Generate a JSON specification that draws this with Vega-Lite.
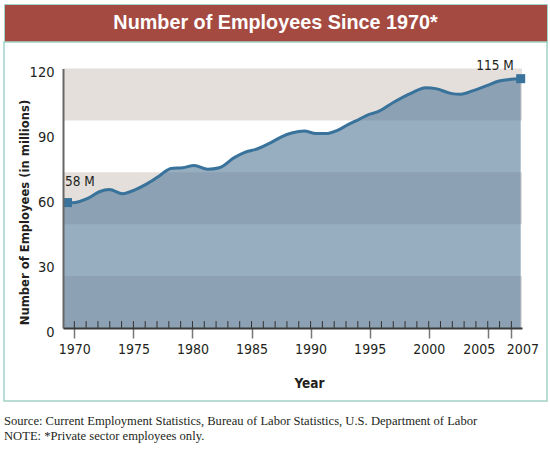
{
  "$schema": "https://vega.github.io/schema/vega-lite/v6.json",
  "autosize": {"type": "pad"},
  "padding": {"left": 3, "top": 3, "right": 3, "bottom": 10},
  "background": "white",
  "spacing": 0,
  "bounds": "flush",
  "config": {
    "view": {"stroke": "#a3d2c7", "strokeWidth": 1.5},
    "font": "Liberation Sans Narrow, DejaVu Sans Condensed, sans-serif"
  },
  "datasets": {
    "heading": [{"heading": "Number of Employees Since 1970*"}],
    "bands": [
      {"lo": 0, "hi": 24},
      {"lo": 48, "hi": 72},
      {"lo": 96, "hi": 120}
    ],
    "years": [
      {"year": 1970}, {"year": 1971}, {"year": 1972}, {"year": 1973}, {"year": 1974},
      {"year": 1975}, {"year": 1976}, {"year": 1977}, {"year": 1978}, {"year": 1979},
      {"year": 1980}, {"year": 1981}, {"year": 1982}, {"year": 1983}, {"year": 1984},
      {"year": 1985}, {"year": 1986}, {"year": 1987}, {"year": 1988}, {"year": 1989},
      {"year": 1990}, {"year": 1991}, {"year": 1992}, {"year": 1993}, {"year": 1994},
      {"year": 1995}, {"year": 1996}, {"year": 1997}, {"year": 1998}, {"year": 1999},
      {"year": 2000}, {"year": 2001}, {"year": 2002}, {"year": 2003}, {"year": 2004},
      {"year": 2005}, {"year": 2006}, {"year": 2007}
    ],
    "employees": [
      {"year": 1969.04, "value": 58.0},
      {"year": 1969.42, "value": 58.0, "label": "58 M", "end": "first"},
      {"year": 1969.81, "value": 57.9},
      {"year": 1971.27, "value": 60.3},
      {"year": 1972.12, "value": 63.0},
      {"year": 1972.96, "value": 64.1},
      {"year": 1974.09, "value": 62.1},
      {"year": 1975.22, "value": 64.1},
      {"year": 1976.06, "value": 66.4},
      {"year": 1977.19, "value": 70.3},
      {"year": 1978.18, "value": 73.8},
      {"year": 1979.17, "value": 74.1},
      {"year": 1980.15, "value": 75.2},
      {"year": 1981.29, "value": 73.4},
      {"year": 1982.27, "value": 74.1},
      {"year": 1983.54, "value": 78.8},
      {"year": 1984.38, "value": 81.1},
      {"year": 1985.52, "value": 82.9},
      {"year": 1986.64, "value": 85.7},
      {"year": 1987.49, "value": 88.3},
      {"year": 1988.48, "value": 90.3},
      {"year": 1989.46, "value": 91.1},
      {"year": 1990.45, "value": 89.9},
      {"year": 1991.29, "value": 89.9},
      {"year": 1992.28, "value": 91.4},
      {"year": 1993.13, "value": 93.9},
      {"year": 1994.11, "value": 96.5},
      {"year": 1994.96, "value": 98.8},
      {"year": 1995.67, "value": 99.9},
      {"year": 1997.07, "value": 104.5},
      {"year": 1998.49, "value": 108.5},
      {"year": 1999.75, "value": 111.1},
      {"year": 2000.60, "value": 110.7},
      {"year": 2001.87, "value": 108.5},
      {"year": 2002.71, "value": 108.1},
      {"year": 2003.84, "value": 109.9},
      {"year": 2004.97, "value": 112.2},
      {"year": 2005.96, "value": 114.2},
      {"year": 2006.94, "value": 115.0},
      {"year": 2007.79, "value": 115.3, "label": "115 M", "end": "last"}
    ]
  },
  "vconcat": [
    {
      "width": 543,
      "height": 38,
      "view": {"fill": "#a54a41", "stroke": "#a3d2c7"},
      "data": {"name": "heading"},
      "mark": {"type": "text", "font": "Liberation Sans", "fontSize": 19.8, "fontWeight": "bold", "color": "white", "baseline": "middle", "align": "center"},
      "encoding": {"text": {"field": "heading", "type": "nominal"}}
    },
    {
      "width": 543,
      "height": 359,
      "view": {"fill": "white", "stroke": "#a3d2c7"},
      "title": {
        "text": [
          "Source: Current Employment Statistics, Bureau of Labor Statistics, U.S. Department of Labor",
          "NOTE: *Private sector employees only."
        ],
        "orient": "bottom",
        "anchor": "start",
        "frame": "group",
        "offset": 14,
        "font": "Liberation Serif",
        "fontSize": 12.6,
        "fontWeight": "normal",
        "color": "#231f20",
        "lineHeight": 14.5
      },
      "layer": [
        {
          "data": {"name": "bands"},
          "mark": {"type": "rect", "color": "#e4dfdb"},
          "encoding": {
            "x": {"datum": 1969.04, "type": "quantitative",
                  "scale": {"domain": [1969.04, 2007.9], "range": [59, 518], "nice": false, "zero": false},
                  "axis": {
                    "values": [1970, 1975, 1980, 1985, 1990, 1995, 2000, 2005, 2007],
                    "format": "d",
                    "offset": -73,
                    "zindex": 1,
                    "domainColor": "#3a3a3a",
                    "domainWidth": 2,
                    "tickColor": "#777777",
                    "tickSize": 10,
                    "tickWidth": 1.5,
                    "labelPadding": 4,
                    "labelFontSize": 14,
                    "labelColor": "#231f20",
                    "labelOverlap": false,
                    "labelFlush": false,
                    "labelOffset": {
                      "condition": [
                        {"test": "datum.value == 2005", "value": -9},
                        {"test": "datum.value == 2007", "value": 11}
                      ],
                      "value": 0
                    },
                    "grid": false,
                    "title": "Year",
                    "titleFontSize": 13.5,
                    "titleFontWeight": "bold",
                    "titleColor": "#231f20",
                    "titleX": 305,
                    "titleY": 55,
                    "titleAlign": "center",
                    "titleBaseline": "middle",
                    "titleAnchor": null
                  }},
            "x2": {"datum": 2007.9},
            "y": {"field": "lo", "type": "quantitative",
                  "scale": {"domain": [0, 120], "range": [286, 26.5], "nice": false, "zero": true},
                  "axis": {
                    "values": [0, 30, 60, 90, 120],
                    "offset": -59,
                    "zindex": 1,
                    "domainColor": "#666666",
                    "domainWidth": 2,
                    "ticks": false,
                    "tickSize": 0,
                    "labelPadding": 9,
                    "labelOffset": 4,
                    "labelFontSize": 14.5,
                    "labelColor": "#231f20",
                    "labelOverlap": false,
                    "labelFlush": false,
                    "grid": false,
                    "title": "Number of Employees (in millions)",
                    "titleFontSize": 12.9,
                    "titleFontWeight": "bold",
                    "titleColor": "#231f20",
                    "titleX": -39,
                    "titleY": 170,
                    "titleAngle": -90,
                    "titleAlign": "center",
                    "titleBaseline": "middle",
                    "titleAnchor": null
                  }},
            "y2": {"field": "hi"}
          }
        },
        {
          "data": {"name": "employees"},
          "mark": {"type": "area", "color": "#527898", "opacity": 0.6, "interpolate": "monotone"},
          "encoding": {
            "x": {"field": "year", "type": "quantitative"},
            "y": {"field": "value", "type": "quantitative"}
          }
        },
        {
          "data": {"name": "employees"},
          "mark": {"type": "line", "color": "#39729a", "strokeWidth": 3, "interpolate": "monotone"},
          "encoding": {
            "x": {"field": "year", "type": "quantitative"},
            "y": {"field": "value", "type": "quantitative"}
          }
        },
        {
          "data": {"name": "years"},
          "mark": {"type": "rule", "color": "#333333", "strokeWidth": 1},
          "encoding": {
            "x": {"field": "year", "type": "quantitative"},
            "y": {"datum": 0, "type": "quantitative"},
            "y2": {"datum": 3.2}
          }
        },
        {
          "data": {"name": "employees"},
          "transform": [{"filter": "datum.label != null"}],
          "mark": {"type": "square", "color": "#39729a", "opacity": 1, "size": 81},
          "encoding": {
            "x": {"field": "year", "type": "quantitative"},
            "y": {"field": "value", "type": "quantitative"}
          }
        },
        {
          "data": {"name": "employees"},
          "transform": [{"filter": "datum.end == 'first'"}],
          "mark": {"type": "text", "align": "left", "baseline": "middle", "dx": -2.5, "dy": -20.5, "fontSize": 13.5, "color": "#231f20"},
          "encoding": {
            "x": {"field": "year", "type": "quantitative"},
            "y": {"field": "value", "type": "quantitative"},
            "text": {"field": "label", "type": "nominal"}
          }
        },
        {
          "data": {"name": "employees"},
          "transform": [{"filter": "datum.end == 'last'"}],
          "mark": {"type": "text", "align": "right", "baseline": "middle", "dx": -7, "dy": -13, "fontSize": 13.5, "color": "#231f20"},
          "encoding": {
            "x": {"field": "year", "type": "quantitative"},
            "y": {"field": "value", "type": "quantitative"},
            "text": {"field": "label", "type": "nominal"}
          }
        }
      ]
    }
  ]
}
